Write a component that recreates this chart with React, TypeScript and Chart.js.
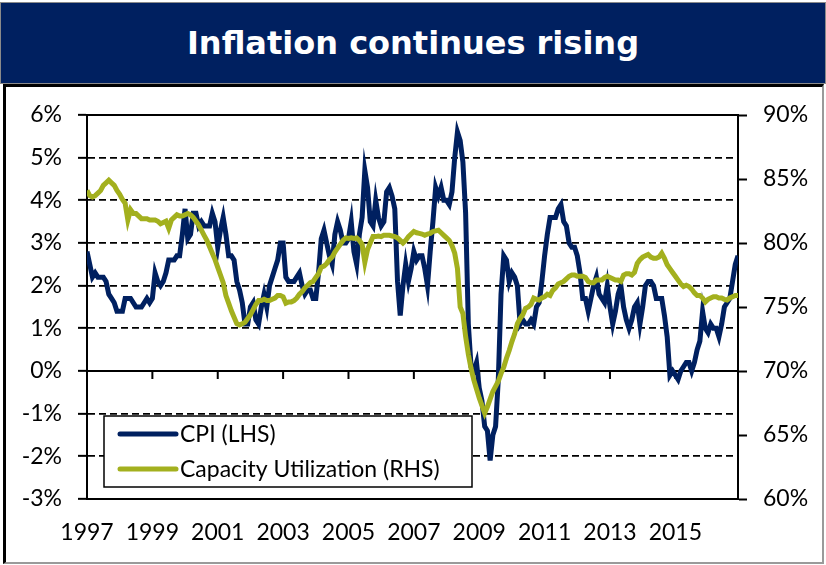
import React, { useEffect, useRef } from 'react';
import { Chart, registerables } from 'chart.js';

Chart.register(...registerables);

// Monthly observations, March 1997 .. February 2017 (first point sits on the "1997" label)
const FIRST_YEAR = 1997;
const xTickYears = [1997, 1999, 2001, 2003, 2005, 2007, 2009, 2011, 2013, 2015];
const leftAxisRange = [-3, 6];
const rightAxisRange = [60, 90];
const seriesLabels = ['CPI (LHS)', 'Capacity Utilization (RHS)'];
const titleText = 'Inflation continues rising';

const cpi = [
  2.8, 2.5, 2.2, 2.3, 2.2, 2.2, 2.2, 2.1, 1.8, 1.7,
  1.6, 1.4, 1.4, 1.4, 1.7, 1.7, 1.7, 1.6, 1.5, 1.5, 1.5, 1.6,
  1.7, 1.6, 1.7, 2.3, 2.1, 2.0, 2.1, 2.3, 2.6, 2.6, 2.6, 2.7,
  2.7, 3.2, 3.8, 3.1, 3.2, 3.7, 3.7, 3.4, 3.5, 3.4, 3.4, 3.4,
  3.7, 3.5, 2.9, 3.3, 3.6, 3.2, 2.7, 2.7, 2.6, 2.1, 1.9, 1.6,
  1.1, 1.1, 1.5, 1.6, 1.2, 1.1, 1.5, 1.8, 1.5, 2.0, 2.2, 2.4,
  2.6, 3.0, 3.0, 2.2, 2.1, 2.1, 2.1, 2.2, 2.3, 2.0, 1.8, 1.9,
  1.9, 1.7, 1.7, 2.3, 3.1, 3.3, 3.0, 2.7, 2.5, 3.2, 3.5, 3.3,
  3.0, 3.0, 3.1, 3.5, 2.8, 2.5, 3.2, 3.6, 4.7, 4.3, 3.5, 3.4,
  4.0, 3.6, 3.4, 3.5, 4.2, 4.3, 4.1, 3.8, 2.1, 1.3, 2.0, 2.5,
  2.1, 2.4, 2.8, 2.6, 2.7, 2.7, 2.4, 2.0, 2.8, 3.5, 4.3, 4.1,
  4.3, 4.0, 4.0, 3.9, 4.2, 5.0, 5.6, 5.4, 4.9, 3.7, 1.1, 0.1,
  0.0, 0.2, -0.4, -0.7, -1.3, -1.4, -2.1, -1.5, -1.3, -0.2, 1.8, 2.7,
  2.6, 2.1, 2.3, 2.2, 2.0, 1.1, 1.2, 1.1, 1.1, 1.2, 1.1, 1.5,
  1.6, 2.1, 2.7, 3.2, 3.6, 3.6, 3.6, 3.8, 3.9, 3.5, 3.4, 3.0,
  2.9, 2.9, 2.7, 2.3, 1.7, 1.7, 1.4, 1.7, 2.0, 2.2, 1.8, 1.7,
  1.6, 2.0, 1.5, 1.1, 1.4, 1.8, 2.0, 1.5, 1.2, 1.0, 1.2, 1.5,
  1.6, 1.1, 1.5, 2.0, 2.1, 2.1, 2.0, 1.7, 1.7, 1.7, 1.3, 0.8,
  -0.1, 0.0, -0.1, -0.2, 0.0, 0.1, 0.2, 0.2, 0.0, 0.2, 0.5, 0.7,
  1.4, 1.0, 0.9, 1.1, 1.0, 1.0, 0.8, 1.1, 1.5, 1.6, 1.7, 2.1,
  2.5, 2.7,
];

const capacity = [
  84.1, 83.7, 83.6, 83.7, 83.9, 84.1, 84.5, 84.7, 84.9, 84.7,
  84.5, 84.1, 83.8, 83.4, 83.1, 81.8, 82.6, 82.3, 82.3, 82.1,
  81.9, 81.9, 81.9, 81.8, 81.8, 81.8, 81.7, 81.5, 81.6, 81.7,
  81.15, 81.8, 82.0, 82.2, 82.1, 82.1, 82.2, 82.3, 82.2, 82.0,
  81.7, 81.4, 81.0, 80.6, 80.2, 79.7, 79.2, 78.7, 78.1, 77.5,
  76.9, 75.9, 75.3, 74.7, 74.2, 73.7, 73.6, 73.7, 73.8, 74.1,
  74.4, 74.8, 75.2, 75.5, 75.5, 75.6, 75.5, 75.5, 75.6, 75.7,
  75.9, 75.9, 75.8, 75.3, 75.4, 75.4, 75.5, 75.7, 76.0, 76.2,
  76.5, 76.7, 76.9, 77.0, 77.3, 77.6, 78.1, 78.2, 78.4, 78.7,
  78.9, 79.3, 79.6, 79.9, 80.2, 80.4, 80.35, 80.4, 80.35, 80.4,
  80.2, 79.9, 78.5, 79.5, 80.0, 80.5, 80.5, 80.55, 80.5, 80.6,
  80.6, 80.6, 80.55, 80.5, 80.4, 80.2, 80.0, 80.2, 80.5, 80.7,
  80.9, 80.8, 80.75, 80.7, 80.6, 80.7, 80.75, 80.9, 80.95, 81.0,
  80.8, 80.6, 80.4, 80.2, 79.8, 79.2, 78.0, 75.0, 74.5, 72.7,
  71.3, 70.2, 69.3, 68.6, 67.9, 67.3, 66.7, 67.2, 67.8, 68.4,
  68.8, 69.2, 69.8, 70.3, 71.0, 71.6, 72.3, 72.9, 73.7, 74.1,
  74.4, 74.9, 75.0, 75.2, 75.7, 75.6, 75.55, 75.7, 75.8, 76.0,
  75.9, 76.3, 76.5, 76.8, 76.9, 77.0, 77.2, 77.4, 77.5, 77.5,
  77.4, 77.4, 77.4, 77.3, 77.0, 76.9, 76.9, 77.1, 77.1, 77.1,
  77.3, 77.4, 77.3, 77.2, 77.1, 77.1, 77.0, 77.5, 77.6, 77.6,
  77.5, 77.7, 78.4, 78.7, 78.9, 79.0, 79.1, 78.9, 78.8, 78.8,
  78.9, 79.2, 78.8, 78.3, 78.0, 77.7, 77.4, 77.1, 76.8, 76.6,
  76.7, 76.6, 76.4, 76.1, 75.9, 75.9, 75.7, 75.4, 75.6, 75.7,
  75.8, 75.8, 75.7, 75.7, 75.6, 75.55, 75.7, 75.8, 75.9, 75.9,
];

const NAVY = '#002060';
const OLIVE = '#A3B01E';
const FONT = 'Lato, "Open Sans", sans-serif';

const axisDecor = {
  id: 'axisDecor',
  beforeDatasetsDraw(chart: any) {
    const { ctx, chartArea: ca, scales } = chart;
    const y0 = scales.y.getPixelForValue(0);
    ctx.save();
    ctx.strokeStyle = '#000';
    ctx.lineWidth = 2;
    ctx.beginPath();
    ctx.moveTo(ca.left, ca.top);
    ctx.lineTo(ca.right, ca.top);
    ctx.moveTo(ca.left, y0);
    ctx.lineTo(ca.right, y0);
    scales.x.ticks.forEach((t: any) => {
      const px = scales.x.getPixelForValue(t.value);
      if (px > ca.left + 1) {
        ctx.moveTo(px, y0);
        ctx.lineTo(px, y0 + 8);
      }
    });
    ctx.stroke();
    ctx.restore();
  },
};

const boxLegend = {
  id: 'boxLegend',
  afterDatasetsDraw(chart: any) {
    const { ctx, chartArea: ca } = chart;
    const left = ca.left + 17;
    const top = ca.bottom - 83;
    const w = 368;
    const h = 71;
    ctx.save();
    ctx.fillStyle = '#fff';
    ctx.fillRect(left, top, w, h);
    ctx.strokeStyle = '#000';
    ctx.lineWidth = 1.5;
    ctx.strokeRect(left, top, w, h);
    ctx.font = `23px ${FONT}`;
    ctx.textBaseline = 'middle';
    ctx.textAlign = 'left';
    chart.data.datasets.forEach((ds: any, i: number) => {
      const cy = top + 18 + i * 35;
      ctx.strokeStyle = ds.borderColor;
      ctx.lineWidth = 5;
      ctx.lineCap = 'round';
      ctx.beginPath();
      ctx.moveTo(left + 16, cy);
      ctx.lineTo(left + 72, cy);
      ctx.stroke();
      ctx.fillStyle = '#000';
      ctx.fillText(ds.label, left + 76, cy + 1);
    });
    ctx.restore();
  },
};

function ChartCanvas() {
  const ref = useRef<HTMLCanvasElement | null>(null);
  useEffect(() => {
    if (!ref.current) return;
    const tickFont = { family: FONT, size: 23 };
    const chart = new Chart(ref.current, {
      type: 'line',
      data: {
        datasets: [
          {
            label: seriesLabels[0],
            data: cpi.map((v, i) => ({ x: i, y: v })),
            borderColor: NAVY,
            backgroundColor: NAVY,
            borderWidth: 5,
            pointRadius: 0,
            tension: 0,
            yAxisID: 'y',
            order: 1,
          },
          {
            label: seriesLabels[1],
            data: capacity.map((v, i) => ({ x: i, y: v })),
            borderColor: OLIVE,
            backgroundColor: OLIVE,
            borderWidth: 5,
            pointRadius: 0,
            tension: 0,
            yAxisID: 'y2',
            order: 0,
          },
        ],
      },
      options: {
        responsive: false,
        animation: false,
        events: [],
        layout: { padding: { top: 115, left: 0, right: 0, bottom: 0 } },
        plugins: { legend: { display: false }, tooltip: { enabled: false }, title: { display: false } },
        scales: {
          x: {
            type: 'linear',
            min: 0,
            max: cpi.length - 1,
            afterBuildTicks: (s: any) => {
              s.ticks = xTickYears.map((yr) => ({ value: (yr - FIRST_YEAR) * 12 }));
            },
            afterFit: (s: any) => {
              s.height = 66;
            },
            ticks: {
              font: tickFont,
              color: '#000',
              padding: 12,
              maxRotation: 0,
              autoSkip: false,
              callback: (v: any) => String(FIRST_YEAR + Math.round(Number(v) / 12)),
            },
            grid: { display: false },
            border: { display: true, color: '#000', width: 2 },
          },
          y: {
            position: 'left',
            min: leftAxisRange[0],
            max: leftAxisRange[1],
            afterFit: (s: any) => {
              s.width = 87;
            },
            ticks: {
              stepSize: 1,
              font: tickFont,
              color: '#000',
              padding: 16,
              callback: (v: any) => `${v}%`,
            },
            grid: {
              color: '#000',
              lineWidth: 1.7,
              drawTicks: true,
              tickLength: 9,
              tickColor: '#000',
              tickWidth: 2,
            },
            border: { display: true, color: '#000', width: 2, dash: [7, 4] },
          },
          y2: {
            position: 'right',
            min: rightAxisRange[0],
            max: rightAxisRange[1],
            afterFit: (s: any) => {
              s.width = 88;
            },
            ticks: {
              stepSize: 5,
              font: tickFont,
              color: '#000',
              padding: 16,
              callback: (v: any) => `${v}%`,
            },
            grid: {
              drawOnChartArea: false,
              drawTicks: true,
              tickLength: 9,
              tickColor: '#000',
              tickWidth: 2,
            },
            border: { display: true, color: '#000', width: 2 },
          },
        },
      },
      plugins: [axisDecor, boxLegend],
    } as any);
    return () => chart.destroy();
  }, []);
  return (
    <canvas
      ref={ref}
      width={826}
      height={565}
      style={{ position: 'absolute', left: 0, top: 0, width: 826, height: 565 }}
    />
  );
}

export default function App() {
  return (
    <div
      style={{
        position: 'fixed',
        left: 0,
        top: 0,
        width: 826,
        height: 565,
        background: '#fff',
        overflow: 'hidden',
      }}
    >
      <div
        style={{
          position: 'absolute',
          left: 0,
          top: 2,
          width: 826,
          height: 82,
          boxSizing: 'border-box',
          border: '1px solid #8a8a8a',
          background: NAVY,
          color: '#fff',
          display: 'flex',
          alignItems: 'center',
          justifyContent: 'center',
          fontFamily: '"DejaVu Sans", sans-serif',
          fontWeight: 'bold',
          fontSize: 32,
        }}
      >
        {titleText}
      </div>
      <div
        style={{
          position: 'absolute',
          left: 3,
          top: 84,
          width: 821,
          height: 480,
          boxSizing: 'border-box',
          borderLeft: '3px solid #000',
          borderTop: '3px solid #000',
          borderRight: '2px solid #9a9a9a',
          borderBottom: '2px solid #9a9a9a',
        }}
      />
      <ChartCanvas />
    </div>
  );
}
